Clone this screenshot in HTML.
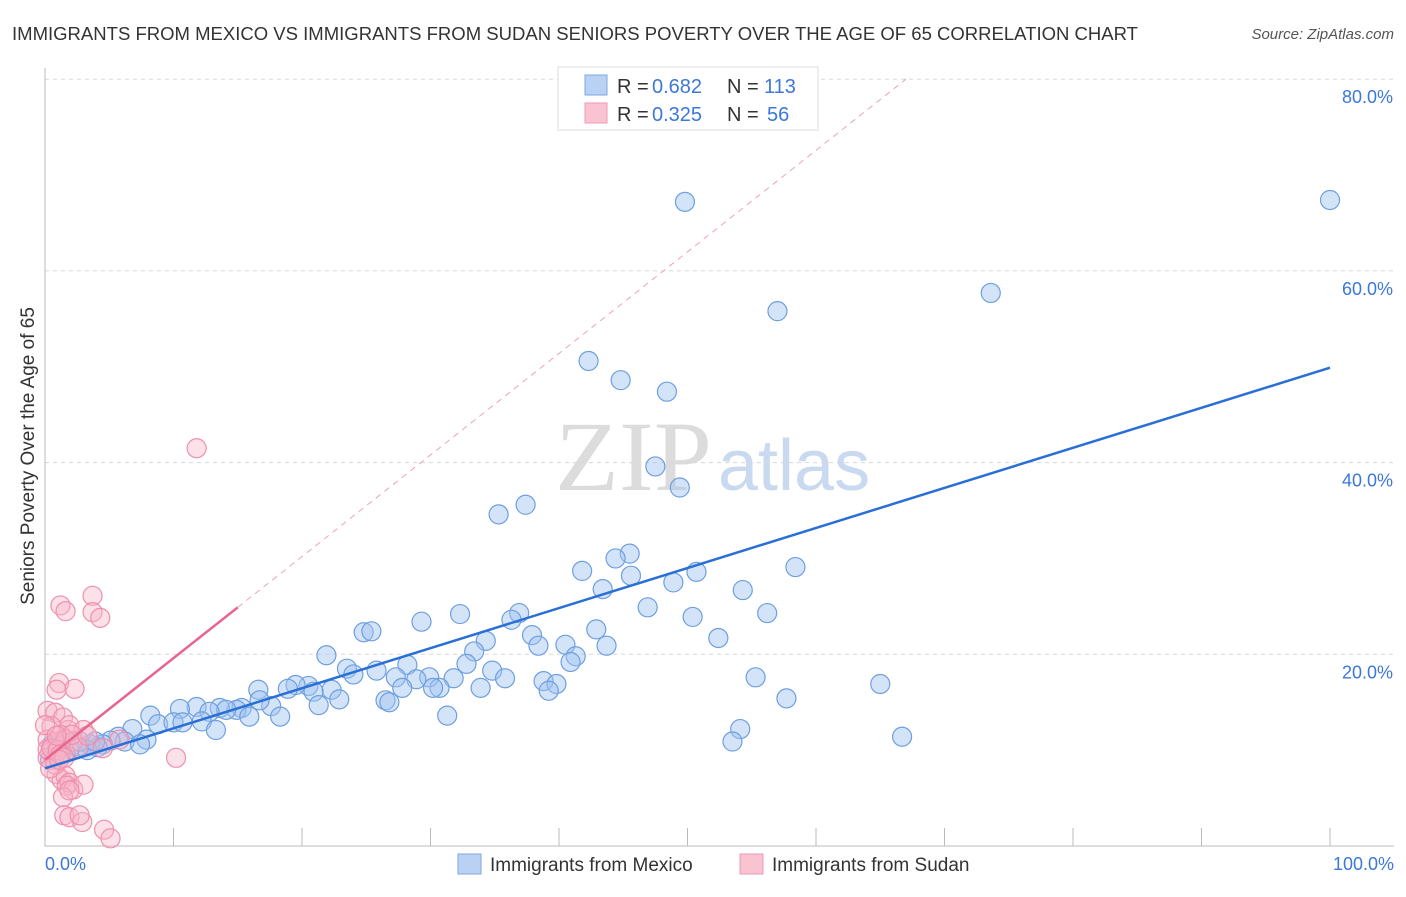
<!DOCTYPE html>
<html><head><meta charset="utf-8"><style>
body{margin:0;background:#fff;font-family:"Liberation Sans",sans-serif;}
svg text{font-family:"Liberation Sans",sans-serif;}
</style></head><body>
<svg width="1406" height="892" viewBox="0 0 1406 892">
<text x="12" y="40" font-size="18" fill="#333" textLength="1126" lengthAdjust="spacingAndGlyphs">IMMIGRANTS FROM MEXICO VS IMMIGRANTS FROM SUDAN SENIORS POVERTY OVER THE AGE OF 65 CORRELATION CHART</text>
<text x="1394" y="39" font-size="15" fill="#555" font-style="italic" text-anchor="end">Source: ZipAtlas.com</text>
<text x="555" y="490" font-size="100" fill="#dcdcdc" font-family="Liberation Serif" style="font-family:'Liberation Serif',serif" textLength="157" lengthAdjust="spacingAndGlyphs">ZIP</text>
<text x="718" y="490" font-size="72" fill="#c8d9f0">atlas</text>
<g id="grid"></g>
<g id="axes"></g>
<g id="pts"></g>
<g id="lines"></g>
<text transform="translate(34,456) rotate(-90)" font-size="19" fill="#333" text-anchor="middle">Seniors Poverty Over the Age of 65</text>
<text x="45" y="870" font-size="18" fill="#3b78d8">0.0%</text>
<text x="1394" y="870" font-size="18" fill="#3b78d8" text-anchor="end">100.0%</text>
<g>
<rect x="558" y="67" width="260" height="63" fill="#fff" stroke="#ddd"/>
<rect x="585" y="75" width="22" height="20" fill="#b9d1f3" stroke="#7fa6e0"/>
<rect x="585" y="103" width="22" height="20" fill="#f9c3d2" stroke="#ef9ab2"/>
<text x="617" y="93" font-size="20" fill="#333">R =</text>
<text x="652" y="93" font-size="20" fill="#3b78d8">0.682</text>
<text x="727" y="93" font-size="20" fill="#333">N =</text>
<text x="764" y="93" font-size="20" fill="#3b78d8">113</text>
<text x="617" y="121" font-size="20" fill="#333">R =</text>
<text x="652" y="121" font-size="20" fill="#3b78d8">0.325</text>
<text x="727" y="121" font-size="20" fill="#333">N =</text>
<text x="767" y="121" font-size="20" fill="#3b78d8">56</text>
</g>
<g>
<rect x="458" y="854" width="23" height="20" fill="#b9d1f3" stroke="#7fa6e0"/>
<text x="490" y="871" font-size="19" fill="#333">Immigrants from Mexico</text>
<rect x="740" y="854" width="23" height="20" fill="#f9c3d2" stroke="#ef9ab2"/>
<text x="772" y="871" font-size="19" fill="#333">Immigrants from Sudan</text>
</g>
</svg>
<script>
const yTicks=[20,40,60,80];
const yTickLabels=["20.0%","40.0%","60.0%","80.0%"];
const xTicks=[10,20,30,40,50,60,70,80,90,100];
const mexico=[[49.8,67.2],[100,67.4],[73.6,57.7],[57.0,55.8],[42.3,50.6],[44.8,48.6],[48.4,47.4],[47.5,39.6],[49.4,37.4],[35.3,34.6],[37.4,35.6],[45.5,30.5],[44.4,30.0],[41.8,28.7],[45.6,28.2],[50.7,28.6],[58.4,29.1],[48.9,27.5],[43.4,26.8],[54.3,26.7],[46.9,24.9],[32.3,24.2],[36.9,24.3],[36.3,23.6],[50.4,23.9],[56.2,24.3],[29.3,23.4],[42.9,22.6],[37.9,22.0],[24.8,22.3],[25.4,22.4],[34.3,21.4],[38.4,20.9],[52.4,21.7],[40.5,21.0],[43.7,20.9],[41.3,19.8],[21.9,19.9],[33.4,20.3],[40.9,19.2],[32.8,19.0],[28.2,18.9],[23.5,18.5],[25.8,18.3],[24.0,17.9],[27.3,17.6],[29.9,17.6],[28.9,17.4],[31.8,17.5],[34.8,18.3],[35.8,17.5],[55.3,17.6],[65.0,16.9],[38.8,17.2],[39.8,16.9],[39.2,16.2],[30.7,16.5],[27.8,16.5],[30.2,16.5],[33.9,16.5],[20.5,16.7],[19.5,16.8],[18.9,16.4],[22.3,16.3],[20.9,16.1],[16.6,16.3],[26.5,15.2],[26.8,15.0],[57.7,15.4],[22.9,15.3],[21.3,14.7],[17.6,14.6],[16.7,15.2],[15.3,14.4],[14.9,14.2],[13.6,14.4],[14.1,14.2],[11.8,14.5],[10.5,14.3],[12.8,14.0],[15.9,13.5],[18.3,13.5],[8.2,13.6],[8.8,12.7],[10.0,12.9],[10.7,12.9],[12.2,13.0],[13.3,12.1],[31.3,13.6],[6.8,12.2],[54.1,12.2],[66.7,11.4],[5.7,11.4],[6.2,10.9],[5.1,11.0],[4.5,10.6],[7.9,11.1],[7.4,10.6],[4.1,10.3],[3.5,10.6],[2.6,10.4],[1.9,10.1],[1.3,10.3],[0.9,9.8],[3.3,10.0],[53.5,10.9],[0.5,10.5],[1.2,10.9],[1.6,9.7],[2.7,10.9],[3.9,10.9],[0.4,9.0]];
const sudan=[[11.8,41.5],[3.7,26.1],[1.2,25.1],[1.6,24.5],[3.7,24.4],[4.3,23.8],[1.1,17.0],[0.9,16.3],[2.3,16.4],[0.2,14.1],[0.8,13.9],[1.4,13.4],[1.8,12.1],[0.5,12.5],[1.9,12.6],[3.0,12.1],[0.2,11.1],[0.9,10.9],[1.3,10.5],[0.4,9.8],[0.2,9.2],[0.7,9.0],[1.2,11.6],[1.6,11.1],[2.2,10.9],[2.6,10.2],[4.5,10.2],[10.2,9.2],[0.9,7.5],[1.3,6.9],[1.6,7.3],[1.9,6.6],[1.7,6.3],[2.2,5.9],[3.0,6.4],[1.4,5.1],[1.9,5.8],[0.8,8.5],[0.4,8.1],[1.5,3.2],[1.9,3.0],[2.9,2.5],[2.7,3.2],[4.6,1.7],[5.1,0.8],[0.2,10.1],[0.5,10.2],[1.0,10.0],[1.2,9.5],[1.5,9.2],[5.8,11.1],[2.1,11.6],[0,12.6],[3.3,11.5],[0.9,11.5],[1.1,9.0]];
const mexicoTrend=[[0,8.1],[100,49.9]];
const sudanTrend=[[0,9.0],[15,24.9]];
const sudanTrendExt=[[15,24.9],[67,80]];
const NS="http://www.w3.org/2000/svg";
const X=v=>45+v*12.85, Y=v=>846-v*9.585;
function mk(t,a,p){const e=document.createElementNS(NS,t);for(const k in a)e.setAttribute(k,a[k]);p.appendChild(e);return e;}
const grid=document.getElementById('grid'),axes=document.getElementById('axes'),pts=document.getElementById('pts'),lines=document.getElementById('lines');
yTicks.forEach((t,i)=>{
 const l=mk('line',{x1:45,x2:1394,y1:Y(t),y2:Y(t),stroke:'#d8d8d8','stroke-dasharray':'4,4'},grid);
 
 
 const tx=mk('text',{x:1393,y:Y(t)+24,'font-size':18,fill:'#3b78d8','text-anchor':'end'},grid);
 tx.textContent=yTickLabels[i];
 
 
});
const ax=mk('path',{d:'M45,68V846H1394',stroke:'#bbb',fill:'none'},axes);


xTicks.forEach(t=>{
 const l=mk('line',{x1:X(t),x2:X(t),y1:828,y2:846,stroke:'#bbb'},axes);
 
 
});
mexico.forEach(d=>{
 const c=mk('circle',{cx:X(d[0]),cy:Y(d[1]),r:9.5,fill:'rgba(160,195,240,0.45)',stroke:'#6e9fe0','stroke-width':1.2},pts);
 
 
});
sudan.forEach(d=>{
 const c=mk('circle',{cx:X(d[0]),cy:Y(d[1]),r:9.5,fill:'rgba(248,180,200,0.4)',stroke:'#ef8fae','stroke-width':1.2},pts);
 
 
});
const l1=mk('line',{x1:X(mexicoTrend[0][0]),y1:Y(mexicoTrend[0][1]),x2:X(mexicoTrend[1][0]),y2:Y(mexicoTrend[1][1]),stroke:'#2a6fd6','stroke-width':2.5},lines);


const l2=mk('line',{x1:X(sudanTrend[0][0]),y1:Y(sudanTrend[0][1]),x2:X(sudanTrend[1][0]),y2:Y(sudanTrend[1][1]),stroke:'#e8658f','stroke-width':2.5},lines);


const l3=mk('line',{x1:X(sudanTrendExt[0][0]),y1:Y(sudanTrendExt[0][1]),x2:X(sudanTrendExt[1][0]),y2:Y(sudanTrendExt[1][1]),stroke:'#eba3b8','stroke-width':1,'stroke-dasharray':'6,5'},lines);


</script>
</body></html>
